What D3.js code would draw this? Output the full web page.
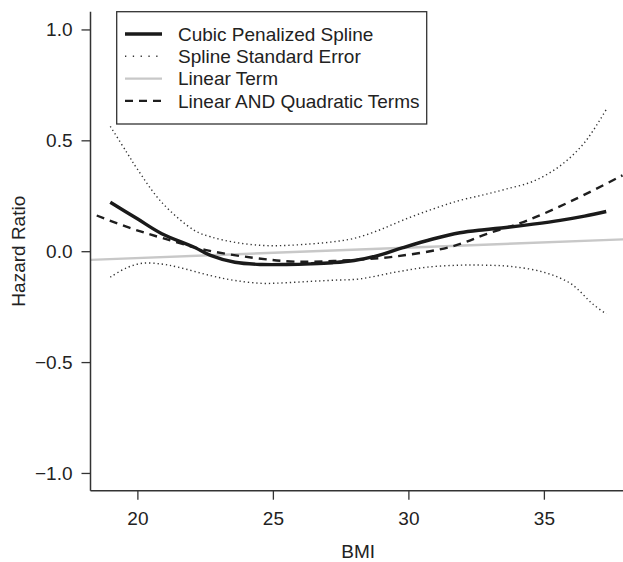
<!DOCTYPE html>
<html>
<head>
<meta charset="utf-8">
<script src="https://cdn.jsdelivr.net/npm/d3@7"></script>
<style>
  body { margin: 0; background: #fff; }
  svg { display: block; font-family: "Liberation Sans", Arial, sans-serif; }
</style>
</head>
<body>
<script>
// values
const bmiSpline = [19.0, 20.0, 20.9, 22.1, 22.7, 23.6, 24.6, 25.5, 26.4, 27.2, 28.0, 28.9, 29.8, 30.9, 31.9, 32.8, 33.6, 34.6, 35.6, 36.5, 37.3];
const spline    = [0.221, 0.146, 0.079, 0.018, -0.019, -0.050, -0.060, -0.060, -0.057, -0.052, -0.042, -0.019, 0.016, 0.055, 0.083, 0.097, 0.107, 0.122, 0.139, 0.158, 0.179];

const bmiUpper = [19.0, 19.6, 20.0, 20.9, 22.1, 22.7, 23.6, 24.6, 25.5, 26.4, 27.2, 28.0, 28.9, 29.8, 30.9, 31.9, 32.8, 33.6, 34.6, 35.6, 36.5, 37.3];
const upperSE  = [0.563, 0.447, 0.370, 0.220, 0.094, 0.065, 0.040, 0.026, 0.026, 0.033, 0.042, 0.058, 0.094, 0.140, 0.190, 0.229, 0.255, 0.280, 0.315, 0.385, 0.490, 0.639];

const bmiLower = [19.0, 19.6, 20.2, 20.9, 21.5, 22.7, 23.6, 24.6, 25.5, 26.4, 27.2, 28.2, 29.5, 30.7, 31.9, 32.8, 33.8, 35.0, 36.0, 36.8, 37.3];
const lowerSE  = [-0.117, -0.075, -0.054, -0.058, -0.072, -0.110, -0.132, -0.145, -0.142, -0.136, -0.131, -0.125, -0.095, -0.072, -0.063, -0.063, -0.069, -0.095, -0.147, -0.238, -0.283];

const bmiLinear = [18.27, 38.03];
const linear    = [-0.039, 0.054];

const bmiQuad = [18.5, 19.7, 20.9, 22.5, 24.3, 25.8, 27.6, 29.5, 31.6, 32.9, 34.4, 36.2, 37.9];
const quad    = [0.161, 0.106, 0.060, 0.006, -0.030, -0.047, -0.042, -0.024, 0.021, 0.078, 0.139, 0.237, 0.342];

const xTicks = [20, 25, 30, 35];
const yTicks = [-1.0, -0.5, 0.0, 0.5, 1.0];
const legendLabels = ["Cubic Penalized Spline", "Spline Standard Error", "Linear Term", "Linear AND Quadratic Terms"];

// set the dimensions and margins of the graph
const W = 623, H = 562;
const margin = {top: 11.7, left: 90.5, bottom: 71.3};
const plotW = 535.5, plotH = H - margin.top - margin.bottom;
const fs = "19px";

const svg = d3.select("body").append("svg")
    .attr("width", W)
    .attr("height", H);

const x = d3.scaleLinear().domain([18.27, 38.03]).range([margin.left, margin.left + plotW]);
const y = d3.scaleLinear().domain([-1.08, 1.08]).range([margin.top + plotH, margin.top]);

svg.append("clipPath").attr("id", "clip")
  .append("rect")
    .attr("x", margin.left).attr("y", margin.top)
    .attr("width", plotW).attr("height", plotH);

const zip = (xs, ys) => xs.map((v, i) => [v, ys[i]]);
const line = d3.line().x(d => x(d[0])).y(d => y(d[1])).curve(d3.curveCatmullRom);

const series = [
  {data: zip(bmiLinear, linear), color: "#c8c8c8", width: 2.4, dash: null},
  {data: zip(bmiUpper, upperSE), color: "#333", width: 1.4, dash: "1.3,2.9"},
  {data: zip(bmiLower, lowerSE), color: "#333", width: 1.4, dash: "1.3,2.9"},
  {data: zip(bmiQuad, quad), color: "#1e1e1e", width: 2.4, dash: "8,6"},
  {data: zip(bmiSpline, spline), color: "#1a1a1a", width: 3.4, dash: null}
];

const g = svg.append("g").attr("clip-path", "url(#clip)");
series.forEach(s => {
  g.append("path")
    .attr("d", line(s.data))
    .attr("fill", "none")
    .attr("stroke", s.color)
    .attr("stroke-width", s.width)
    .attr("stroke-dasharray", s.dash);
});

// axes
const xAxis = svg.append("g")
    .attr("transform", `translate(0,${margin.top + plotH})`)
    .call(d3.axisBottom(x).tickValues(xTicks).tickSize(9).tickPadding(12).tickFormat(d3.format("d")));
const yAxis = svg.append("g")
    .attr("transform", `translate(${margin.left},0)`)
    .call(d3.axisLeft(y).tickValues(yTicks).tickSize(9).tickPadding(9)
      .tickFormat(d => d3.format(".1f")(d).replace("-", "\u2212")));

[xAxis, yAxis].forEach(a => {
  a.select(".domain").attr("stroke", "#333").attr("stroke-width", 1.5);
  a.selectAll(".tick line").attr("stroke", "#333").attr("stroke-width", 1.3);
  a.selectAll(".tick text").attr("fill", "#222").style("font-size", fs);
});
xAxis.select(".domain").attr("d", `M${margin.left},0H${W}`);
yAxis.select(".domain").attr("d", `M0,${margin.top}V${margin.top + plotH}`);

svg.append("text")
    .attr("x", margin.left + plotW / 2)
    .attr("y", 558)
    .attr("text-anchor", "middle")
    .attr("fill", "#222")
    .style("font-size", fs)
    .text("BMI");

svg.append("text")
    .attr("transform", `translate(25,${y(0)}) rotate(-90)`)
    .attr("text-anchor", "middle")
    .attr("fill", "#222")
    .style("font-size", fs)
    .text("Hazard Ratio");

// legend
const leg = svg.append("g");
leg.append("rect")
    .attr("x", 116.7).attr("y", 11.7)
    .attr("width", 310).attr("height", 112.3)
    .attr("fill", "#fff")
    .attr("stroke", "#333")
    .attr("stroke-width", 1.3);

const legStyle = [series[4], series[1], series[0], series[3]];
legendLabels.forEach((lab, i) => {
  const yy = 34 + i * 22.3;
  const s = legStyle[i];
  leg.append("line")
      .attr("x1", 125).attr("x2", 162)
      .attr("y1", yy).attr("y2", yy)
      .attr("stroke", s.color)
      .attr("stroke-width", s.width)
      .attr("stroke-dasharray", i === 1 ? "1.3,6.5" : s.dash);
  leg.append("text")
      .attr("x", 178).attr("y", yy + 6.8)
      .attr("fill", "#222")
      .style("font-size", fs)
      .text(lab);
});
</script>
</body>
</html>
